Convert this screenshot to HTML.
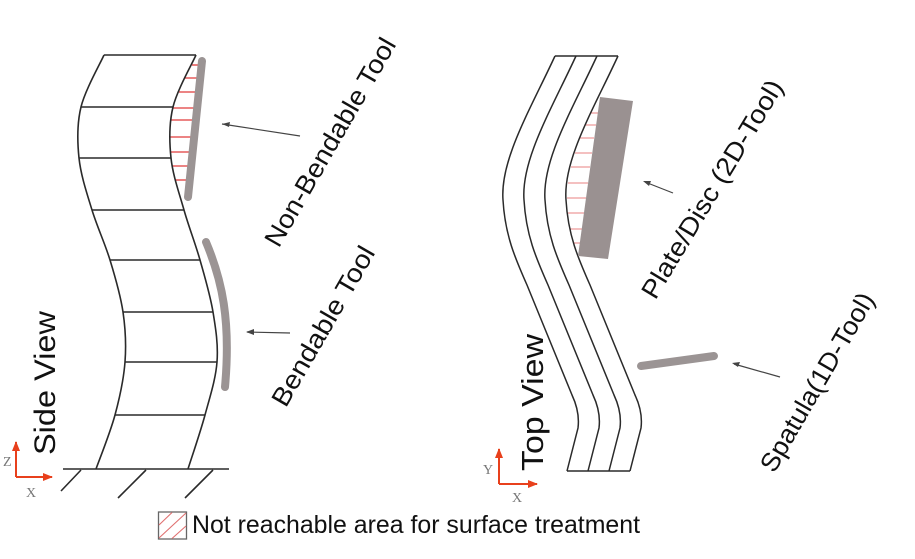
<!DOCTYPE html>
<html><head><meta charset="utf-8"><style>
html,body{margin:0;padding:0;background:#fff;}
svg{display:block;}
text{font-family:"Liberation Sans",sans-serif;fill:#111;}
</style></head><body>
<svg width="915" height="559" viewBox="0 0 915 559" xmlns="http://www.w3.org/2000/svg">
<defs>
<marker id="ah" markerWidth="8" markerHeight="6" refX="1" refY="3" orient="auto" markerUnits="userSpaceOnUse">
<path d="M8,0 L0,3 L8,6 Z" fill="#444"/>
</marker>
<marker id="rh" markerWidth="10" markerHeight="8" refX="9" refY="4" orient="auto" markerUnits="userSpaceOnUse">
<path d="M0,0 L10,4 L0,8 Z" fill="#e8401c"/>
</marker>
</defs>

<!-- SIDE VIEW -->
<g stroke="#e03a3a" stroke-width="1.3">
<line x1="192" y1="65" x2="204" y2="65"/>
<line x1="185" y1="78" x2="203" y2="78"/>
<line x1="179" y1="92" x2="201" y2="92"/>
<line x1="173" y1="108" x2="199" y2="108"/>
<line x1="171" y1="120" x2="197" y2="120"/>
<line x1="170" y1="137" x2="195" y2="137"/>
<line x1="171" y1="152" x2="193" y2="152"/>
<line x1="172" y1="166" x2="192" y2="166"/>
<line x1="175" y1="180" x2="191" y2="180"/>
</g>
<g fill="none" stroke="#2a2a2a" stroke-width="1.6">
<path d="M104,55 C100.2,63.7 85.2,89.8 81,107 C76.8,124.2 77.2,140.8 79,158 C80.8,175.2 86.8,193 92,210 C97.2,227 104.8,243 110,260 C115.2,277 120.5,295 123,312 C125.5,329 126.3,344.8 125,362 C123.7,379.2 119.8,397.2 115,415 C110.2,432.8 99.2,460 96,469"/>
<path d="M196,55 C192.2,63.7 177.2,89.8 173,107 C168.8,124.2 169.2,140.8 171,158 C172.8,175.2 179.2,193 184,210 C188.8,227 195.2,243 200,260 C204.8,277 210.2,295 213,312 C215.8,329 218.3,344.8 217,362 C215.7,379.2 209.8,397.2 205,415 C200.2,432.8 190.8,460 188,469"/>
<line x1="104" y1="55" x2="196" y2="55"/>
<line x1="81" y1="107" x2="173" y2="107"/>
<line x1="79" y1="158" x2="171" y2="158"/>
<line x1="92" y1="210" x2="184" y2="210"/>
<line x1="110" y1="260" x2="200" y2="260"/>
<line x1="123" y1="312" x2="213" y2="312"/>
<line x1="125" y1="362" x2="217" y2="362"/>
<line x1="115" y1="415" x2="205" y2="415"/>
<line x1="63" y1="469" x2="229" y2="469"/>
<line x1="61" y1="491" x2="81" y2="470"/>
<line x1="118" y1="498" x2="146" y2="470"/>
<line x1="185" y1="498" x2="213" y2="470"/>
</g>
<!-- tools -->
<line x1="202" y1="61" x2="188" y2="197" stroke="#9b9494" stroke-width="8" stroke-linecap="round"/>
<path d="M206,242 C222,280 231,320 225,387" fill="none" stroke="#9b9494" stroke-width="8" stroke-linecap="round"/>
<!-- arrows -->
<line x1="300" y1="136" x2="222" y2="124" stroke="#444" stroke-width="1.2" marker-start="url(#ahx)" />
<path d="M222,124 L230,122 L229,127 Z" fill="#444"/>
<line x1="290" y1="333" x2="247" y2="332" stroke="#444" stroke-width="1.2"/>
<path d="M246,332 L254,329 L254,335 Z" fill="#444"/>

<!-- side view labels -->
<text transform="translate(330,142) rotate(-60)" x="0" y="9" font-size="26" text-anchor="middle" textLength="236" lengthAdjust="spacingAndGlyphs">Non-Bendable Tool</text>
<text transform="translate(323,326) rotate(-60)" x="0" y="9" font-size="26" text-anchor="middle" textLength="180" lengthAdjust="spacingAndGlyphs">Bendable Tool</text>
<text transform="translate(55,455) rotate(-90)" x="0" y="0" font-size="30" textLength="144" lengthAdjust="spacingAndGlyphs">Side View</text>

<!-- Z/X axes -->
<line x1="16" y1="477" x2="16" y2="442" stroke="#e8401c" stroke-width="2" marker-end="url(#rh)"/>
<line x1="16" y1="477" x2="52" y2="477" stroke="#e8401c" stroke-width="2" marker-end="url(#rh)"/>
<text x="3" y="466" font-family="Liberation Serif,serif" font-size="14" style="font-family:'Liberation Serif',serif;fill:#777">Z</text>
<text x="26" y="497" font-size="14" style="font-family:'Liberation Serif',serif;fill:#777">X</text>

<!-- TOP VIEW -->
<g stroke="#e88080" stroke-width="1">
<line x1="591" y1="113" x2="598" y2="113"/>
<line x1="585" y1="125" x2="596" y2="125"/>
<line x1="580" y1="138" x2="594" y2="138"/>
<line x1="575" y1="153" x2="592" y2="153"/>
<line x1="571" y1="167" x2="590" y2="167"/>
<line x1="568" y1="183" x2="588" y2="183"/>
<line x1="567" y1="198" x2="586" y2="198"/>
<line x1="568" y1="213" x2="584" y2="213"/>
<line x1="570" y1="229" x2="582" y2="229"/>
<line x1="574" y1="243" x2="580" y2="243"/>
</g>
<g fill="none" stroke="#2a2a2a" stroke-width="1.5">
<path id="tl" d="M555,56 C530,110 500,160 503,200 C505,235 515,258 527,285 L572,395 Q580,412 578,428 L567,471"/>
<path transform="translate(21,0)" d="M555,56 C530,110 500,160 503,200 C505,235 515,258 527,285 L572,395 Q580,412 578,428 L567,471"/>
<path transform="translate(42,0)" d="M555,56 C530,110 500,160 503,200 C505,235 515,258 527,285 L572,395 Q580,412 578,428 L567,471"/>
<path transform="translate(63,0)" d="M555,56 C530,110 500,160 503,200 C505,235 515,258 527,285 L572,395 Q580,412 578,428 L567,471"/>
<line x1="555" y1="56" x2="618" y2="56"/>
<line x1="567" y1="471" x2="630" y2="471"/>
</g>
<polygon points="600,97 633,101 608,259 578,256" fill="#9a9191"/>
<line x1="641" y1="366" x2="714" y2="356" stroke="#9b9494" stroke-width="8" stroke-linecap="round"/>
<line x1="673" y1="193" x2="645" y2="182" stroke="#444" stroke-width="1.2"/>
<path d="M643,181 L651,181 L649,186 Z" fill="#444"/>
<line x1="780" y1="377" x2="734" y2="364" stroke="#444" stroke-width="1.2"/>
<path d="M732,363 L740,362 L738,367 Z" fill="#444"/>

<text transform="translate(712,189) rotate(-59)" x="0" y="9" font-size="26" text-anchor="middle" textLength="250" lengthAdjust="spacingAndGlyphs">Plate/Disc (2D-Tool)</text>
<text transform="translate(817,382) rotate(-60)" x="0" y="9" font-size="26" text-anchor="middle" textLength="202" lengthAdjust="spacingAndGlyphs">Spatula(1D-Tool)</text>
<text transform="translate(543,471) rotate(-90)" x="0" y="0" font-size="31" textLength="137" lengthAdjust="spacingAndGlyphs">Top View</text>

<line x1="499" y1="484" x2="499" y2="449" stroke="#e8401c" stroke-width="2" marker-end="url(#rh)"/>
<line x1="499" y1="484" x2="537" y2="484" stroke="#e8401c" stroke-width="2" marker-end="url(#rh)"/>
<text x="483" y="474" font-size="14" style="font-family:'Liberation Serif',serif;fill:#777">Y</text>
<text x="512" y="502" font-size="14" style="font-family:'Liberation Serif',serif;fill:#777">X</text>

<!-- LEGEND -->
<rect x="158.5" y="512" width="28" height="27" fill="#fff" stroke="#666" stroke-width="1.3"/>
<g stroke="#e07070" stroke-width="1.1">
<line x1="159" y1="525" x2="172" y2="512.5"/>
<line x1="159" y1="538" x2="186" y2="513"/>
<line x1="172" y1="538.5" x2="186" y2="526"/>
</g>
<text x="192" y="533" font-size="25" textLength="448" lengthAdjust="spacingAndGlyphs">Not reachable area for surface treatment</text>
</svg>
</body></html>
